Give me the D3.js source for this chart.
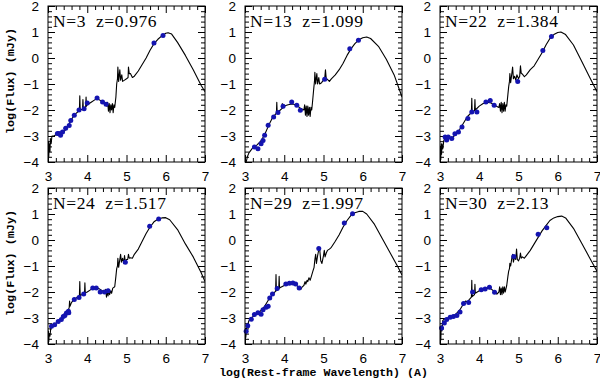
<!DOCTYPE html>
<html>
<head>
<meta charset="utf-8">
<script src="https://cdn.jsdelivr.net/npm/d3@7"></script>
<style>
  body { margin: 0; background: #fff; }
  svg { display: block; }
  .tick text { font-family: "Liberation Sans", Arial, sans-serif; font-size: 13.5px; fill: #000; }
  .tick line { stroke: #000; stroke-width: 1; }
  .plabel { white-space: pre; }
</style>
</head>
<body>
<svg id="chart"></svg>
<script>
const labels = ['N=3  z=0.976', 'N=13  z=1.099', 'N=22  z=1.384', 'N=24  z=1.517', 'N=29  z=1.997', 'N=30  z=2.13'];
const xMajor = [3, 4, 5, 6, 7];
const yMajor = [-4, -3, -2, -1, 0, 1, 2];

// SED model curves, [log wavelength, log flux]
const c1 = [[3.0,-3.9],[3.01,-3.2],[3.02,-3.8],[3.03,-3.3],[3.05,-3.6],[3.06,-3.1],[3.08,-3.3],[3.1,-3.0],[3.15,-3.0],[3.2,-2.95],[3.3,-2.95],[3.4,-2.85],[3.5,-2.65],[3.6,-2.35],[3.7,-2.15],[3.8,-2.02],[3.81,-1.45],[3.82,-2.0],[3.88,-1.97],[3.89,-1.6],[3.9,-1.95],[3.96,-1.88],[3.97,-1.5],[3.98,-1.85],[4.0,-1.8],[4.1,-1.7],[4.2,-1.6],[4.26,-1.57],[4.35,-1.65],[4.45,-1.78],[4.5,-1.85],[4.52,-1.7],[4.54,-2.05],[4.56,-1.75],[4.58,-2.1],[4.6,-1.8],[4.62,-2.0],[4.64,-1.75],[4.66,-2.1],[4.68,-1.8],[4.7,-1.9],[4.73,-1.5],[4.75,-1.0],[4.77,-0.8],[4.78,-0.35],[4.8,-0.9],[4.83,-0.45],[4.85,-0.85],[4.88,-0.65],[4.9,-0.9],[4.95,-0.85],[5.0,-0.8],[5.04,-0.75],[5.05,-0.35],[5.07,-0.6],[5.1,-0.6],[5.15,-0.75],[5.2,-0.7],[5.3,-0.5],[5.4,-0.25],[5.5,0.0],[5.6,0.3],[5.7,0.55],[5.8,0.72],[5.9,0.85],[6.0,0.95],[6.06,0.97],[6.15,0.92],[6.3,0.6],[6.5,0.1],[6.7,-0.45],[6.9,-1.05],[7.0,-1.3]];
const c2 = [[3.03,-4.0],[3.06,-3.8],[3.1,-3.65],[3.2,-3.45],[3.3,-3.35],[3.4,-3.2],[3.5,-2.95],[3.6,-2.6],[3.7,-2.3],[3.8,-2.12],[3.81,-1.7],[3.82,-2.1],[3.9,-2.0],[3.94,-1.95],[3.95,-1.75],[3.96,-1.93],[4.0,-1.85],[4.1,-1.8],[4.2,-1.77],[4.3,-1.8],[4.4,-1.92],[4.5,-2.0],[4.52,-1.8],[4.54,-2.2],[4.56,-1.85],[4.58,-2.25],[4.6,-1.85],[4.62,-2.2],[4.64,-1.9],[4.66,-2.25],[4.68,-1.9],[4.7,-2.0],[4.72,-1.7],[4.75,-1.2],[4.77,-0.9],[4.78,-0.55],[4.8,-1.0],[4.83,-0.6],[4.85,-1.0],[4.88,-0.75],[4.9,-1.0],[4.95,-0.95],[5.0,-0.85],[5.03,-0.8],[5.05,-0.45],[5.07,-0.8],[5.1,-0.82],[5.15,-0.9],[5.2,-0.8],[5.3,-0.65],[5.4,-0.45],[5.5,-0.2],[5.6,0.1],[5.7,0.35],[5.8,0.55],[5.9,0.7],[6.0,0.78],[6.1,0.81],[6.2,0.75],[6.4,0.45],[6.6,-0.05],[6.8,-0.65],[7.0,-1.5]];
const c3 = [[3.0,-3.95],[3.01,-3.4],[3.02,-3.9],[3.03,-3.3],[3.04,-3.7],[3.05,-3.3],[3.07,-3.5],[3.1,-3.15],[3.2,-3.05],[3.3,-3.08],[3.4,-2.95],[3.5,-2.75],[3.6,-2.5],[3.7,-2.25],[3.8,-2.1],[3.81,-1.55],[3.82,-2.08],[3.88,-2.02],[3.89,-1.6],[3.9,-2.0],[4.0,-1.85],[4.1,-1.75],[4.2,-1.7],[4.3,-1.73],[4.4,-1.83],[4.5,-1.9],[4.52,-1.75],[4.54,-2.05],[4.56,-1.7],[4.58,-2.1],[4.6,-1.75],[4.62,-2.05],[4.64,-1.7],[4.66,-2.05],[4.68,-1.8],[4.7,-1.85],[4.73,-1.4],[4.75,-1.1],[4.77,-0.9],[4.78,-0.6],[4.8,-0.95],[4.83,-0.6],[4.85,-0.35],[4.87,-0.8],[4.9,-0.7],[4.93,-0.85],[4.96,-0.65],[5.0,-0.8],[5.03,-0.7],[5.05,-0.3],[5.07,-0.6],[5.1,-0.62],[5.15,-0.72],[5.2,-0.65],[5.3,-0.45],[5.4,-0.3],[5.5,-0.05],[5.6,0.2],[5.7,0.5],[5.8,0.75],[5.9,0.9],[6.0,0.98],[6.08,1.0],[6.2,0.9],[6.4,0.5],[6.6,-0.1],[6.8,-0.7],[7.0,-1.3]];
const c4 = [[3.0,-3.95],[3.01,-3.5],[3.02,-3.9],[3.03,-3.6],[3.05,-3.7],[3.07,-3.4],[3.1,-3.3],[3.2,-3.2],[3.3,-3.1],[3.4,-2.95],[3.5,-2.75],[3.54,-2.6],[3.55,-2.35],[3.56,-2.55],[3.6,-2.4],[3.7,-2.25],[3.8,-2.15],[3.81,-1.6],[3.82,-2.13],[3.9,-2.08],[3.93,-2.05],[3.94,-1.65],[3.95,-2.03],[4.0,-2.0],[4.1,-1.9],[4.2,-1.85],[4.3,-1.87],[4.4,-1.97],[4.45,-2.05],[4.47,-1.9],[4.49,-2.2],[4.51,-1.95],[4.53,-2.15],[4.55,-1.9],[4.57,-2.1],[4.6,-1.95],[4.62,-2.05],[4.65,-1.85],[4.7,-1.8],[4.73,-1.4],[4.75,-1.1],[4.77,-1.0],[4.78,-0.7],[4.8,-1.05],[4.83,-0.75],[4.85,-0.55],[4.87,-0.85],[4.9,-0.7],[4.93,-0.9],[4.95,-0.6],[4.97,-0.85],[5.0,-0.75],[5.03,-0.75],[5.05,-0.55],[5.07,-0.7],[5.1,-0.68],[5.15,-0.7],[5.2,-0.55],[5.3,-0.35],[5.4,-0.05],[5.5,0.25],[5.6,0.5],[5.7,0.7],[5.8,0.8],[5.9,0.85],[6.0,0.86],[6.1,0.78],[6.3,0.4],[6.5,-0.15],[6.7,-0.65],[6.9,-1.25],[7.0,-1.6]];
const c5 = [[3.0,-3.85],[3.01,-3.4],[3.02,-3.75],[3.04,-3.4],[3.06,-3.3],[3.1,-3.1],[3.2,-2.95],[3.3,-2.85],[3.4,-2.72],[3.5,-2.55],[3.6,-2.3],[3.7,-2.1],[3.78,-1.97],[3.79,-1.33],[3.8,-1.95],[3.86,-1.88],[3.87,-1.4],[3.88,-1.85],[3.9,-1.83],[4.0,-1.75],[4.1,-1.7],[4.2,-1.68],[4.3,-1.72],[4.38,-1.85],[4.42,-1.9],[4.46,-1.8],[4.5,-1.75],[4.53,-1.6],[4.55,-1.7],[4.58,-1.55],[4.6,-1.6],[4.63,-1.45],[4.66,-1.55],[4.7,-1.35],[4.73,-1.2],[4.76,-1.05],[4.78,-0.75],[4.8,-0.55],[4.82,-0.9],[4.85,-0.6],[4.87,-0.45],[4.9,-0.3],[4.93,-0.8],[4.96,-0.9],[5.0,-0.6],[5.02,-0.4],[5.04,-0.65],[5.07,-0.5],[5.1,-0.4],[5.15,-0.35],[5.2,-0.28],[5.3,-0.05],[5.4,0.2],[5.5,0.5],[5.6,0.75],[5.7,0.95],[5.8,1.05],[5.9,1.1],[6.0,1.1],[6.1,1.0],[6.3,0.6],[6.5,0.05],[6.7,-0.5],[6.9,-1.05],[7.0,-1.35]];
const c6 = [[3.0,-3.95],[3.01,-3.4],[3.02,-3.85],[3.03,-3.3],[3.05,-3.5],[3.07,-3.1],[3.1,-3.05],[3.2,-3.0],[3.3,-2.95],[3.4,-2.85],[3.5,-2.7],[3.6,-2.45],[3.65,-2.35],[3.7,-2.38],[3.75,-2.28],[3.8,-2.2],[3.81,-1.55],[3.82,-2.18],[3.88,-2.1],[3.89,-1.7],[3.9,-2.05],[4.0,-1.95],[4.1,-1.88],[4.2,-1.85],[4.3,-1.88],[4.4,-2.0],[4.45,-2.08],[4.5,-2.0],[4.52,-1.8],[4.54,-2.1],[4.56,-1.85],[4.58,-2.1],[4.6,-1.8],[4.62,-2.05],[4.64,-1.8],[4.66,-2.0],[4.7,-1.75],[4.73,-1.4],[4.75,-1.2],[4.77,-1.1],[4.78,-0.9],[4.8,-1.0],[4.83,-0.7],[4.85,-0.55],[4.87,-0.85],[4.9,-0.65],[4.93,-0.75],[4.95,-0.35],[4.97,-0.75],[5.0,-0.8],[5.03,-0.7],[5.05,-0.5],[5.07,-0.7],[5.1,-0.65],[5.15,-0.7],[5.2,-0.6],[5.3,-0.4],[5.4,-0.15],[5.5,0.1],[5.6,0.35],[5.7,0.55],[5.8,0.75],[5.9,0.85],[6.0,0.9],[6.1,0.92],[6.2,0.85],[6.4,0.45],[6.6,-0.1],[6.8,-0.65],[7.0,-1.2]];

// observed photometry
const d1 = [[3.24,-2.9],[3.28,-2.9],[3.32,-2.97],[3.37,-2.85],[3.45,-2.7],[3.54,-2.6],[3.58,-2.4],[3.67,-2.2],[3.79,-2.0],[3.92,-1.95],[4.0,-1.73],[4.25,-1.54],[4.39,-1.69],[4.48,-1.78],[5.7,0.58],[5.93,0.87]];
const d2 = [[3.24,-3.42],[3.33,-3.49],[3.41,-3.3],[3.46,-3.17],[3.5,-2.97],[3.59,-2.59],[3.73,-2.27],[3.84,-2.1],[3.97,-1.86],[4.19,-1.69],[4.32,-1.82],[4.41,-2.01],[5.03,-0.82],[5.67,0.36],[5.89,0.68]];
const d3s = [[3.13,-3.04],[3.17,-3.15],[3.21,-3.04],[3.3,-3.1],[3.38,-2.91],[3.47,-2.85],[3.56,-2.65],[3.71,-2.33],[3.81,-2.08],[3.94,-2.08],[4.17,-1.69],[4.28,-1.63],[4.38,-1.82],[4.98,-0.9],[5.62,0.29],[5.84,0.83]];
const d4 = [[3.09,-3.32],[3.17,-3.26],[3.26,-3.13],[3.34,-3.06],[3.39,-2.94],[3.43,-2.9],[3.47,-2.81],[3.52,-2.74],[3.53,-2.8],[3.67,-2.29],[3.79,-2.21],[3.91,-2.08],[4.14,-1.85],[4.23,-1.85],[4.33,-2.0],[4.44,-2.0],[4.53,-1.95],[4.97,-0.86],[5.59,0.53],[5.82,0.81]];
const d5 = [[3.03,-3.51],[3.07,-3.3],[3.16,-3.05],[3.24,-2.87],[3.33,-2.8],[3.41,-2.86],[3.46,-2.68],[3.54,-2.59],[3.59,-2.55],[3.63,-2.23],[3.7,-2.08],[3.82,-1.87],[4.04,-1.69],[4.13,-1.66],[4.22,-1.65],[4.29,-1.69],[4.38,-1.85],[4.88,-0.33],[5.53,0.65],[5.74,1.01]];
const d6 = [[3.04,-3.38],[3.11,-3.19],[3.17,-3.06],[3.26,-2.97],[3.34,-2.94],[3.43,-2.9],[3.51,-2.77],[3.6,-2.44],[3.73,-2.4],[3.83,-2.0],[4.05,-1.91],[4.15,-1.88],[4.26,-1.82],[4.39,-2.01],[4.88,-0.63],[5.5,0.22],[5.72,0.47]];

const curves = [c1, c2, c3, c4, c5, c6];
const dots = [d1, d2, d3s, d4, d5, d6];

const W = 600, H = 380;
const lefts = [48, 245, 440];
const tops = [6, 188];
const pw = 157, ph = 156;

const svg = d3.select('#chart').attr('width', W).attr('height', H);

labels.forEach((lab, i) => {
  const px = lefts[i % 3], py = tops[Math.floor(i / 3)];
  const g = svg.append('g').attr('transform', `translate(${px},${py})`);

  const x = d3.scaleLinear().domain([3, 7]).range([0, pw]);
  const y = d3.scaleLinear().domain([-4, 2]).range([ph, 0]);
  const xMinor = x.ticks(20).filter(v => !xMajor.includes(v));
  const yMinor = y.ticks(30).filter(v => !yMajor.includes(v));

  // major + minor ticks on all four sides, pointing inward
  const axes = [
    [d3.axisBottom(x), `translate(0,${ph})`, xMajor, xMinor, true],
    [d3.axisTop(x), 'translate(0,0)', xMajor, xMinor, false],
    [d3.axisLeft(y), 'translate(0,0)', yMajor, yMinor, true],
    [d3.axisRight(y), `translate(${pw},0)`, yMajor, yMinor, false]
  ];
  axes.forEach(([ax, tr, maj, mnr, lbl]) => {
    g.append('g').attr('transform', tr)
      .call(ax.tickValues(maj).tickSizeInner(-7).tickSizeOuter(0).tickPadding(lbl ? 9 : 0)
        .tickFormat(lbl ? d => d3.format('d')(d).replace('-', '\u2212') : ''))
      .call(s => s.select('.domain').remove());
    g.append('g').attr('transform', tr)
      .call(ax.tickValues(mnr).tickSizeInner(-4).tickFormat(''))
      .call(s => s.select('.domain').remove());
  });

  const clipId = `clip${i}`;
  g.append('clipPath').attr('id', clipId)
    .append('rect').attr('width', pw).attr('height', ph);

  const line = d3.line().x(d => x(d[0])).y(d => y(d[1]));
  g.append('path')
    .datum(curves[i])
    .attr('clip-path', `url(#${clipId})`)
    .attr('d', line)
    .attr('fill', 'none')
    .attr('stroke', '#000')
    .attr('stroke-width', 1.1)
    .attr('stroke-linejoin', 'round');

  g.selectAll('.dot')
    .data(dots[i])
    .enter()
    .append('circle')
    .attr('class', 'dot')
    .attr('cx', d => x(d[0]))
    .attr('cy', d => y(d[1]))
    .attr('r', 2.5)
    .attr('fill', '#1414b0');

  g.append('rect')
    .attr('width', pw).attr('height', ph)
    .attr('fill', 'none').attr('stroke', '#000').attr('stroke-width', 1);

  g.append('text')
    .attr('class', 'plabel')
    .attr('x', 5).attr('y', 21)
    .attr('font-family', '"Liberation Serif", "Times New Roman", serif')
    .attr('font-size', 17.5)
    .attr('letter-spacing', 0.6)
    .text(lab);
});

// axis titles
const titleFont = '"Liberation Mono", "Courier New", monospace';
tops.forEach(t => {
  svg.append('text')
    .attr('transform', `translate(14,${t + ph / 2 - 3}) rotate(-90)`)
    .attr('text-anchor', 'middle')
    .attr('font-family', titleFont)
    .attr('font-size', 11.8)
    .attr('font-weight', 'bold')
    .text('log(Flux) (mJy)');
});

svg.append('text')
  .attr('x', lefts[1] + pw / 2)
  .attr('y', 375.5)
  .attr('text-anchor', 'middle')
  .attr('font-family', titleFont)
  .attr('font-size', 11.6)
  .attr('font-weight', 'bold')
  .text('log(Rest-frame Wavelength) (A)');
</script>
</body>
</html>
